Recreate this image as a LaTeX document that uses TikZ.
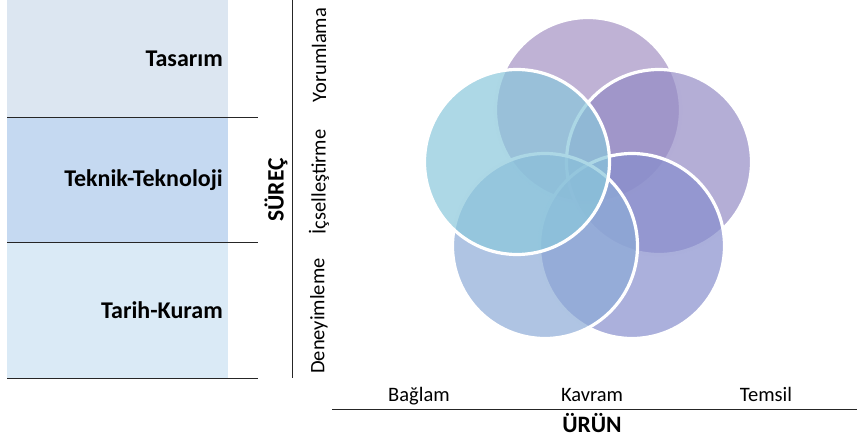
\documentclass[tikz,border=0pt]{standalone}
\usepackage{fontspec}
\setmainfont{Carlito}
\usetikzlibrary{positioning}

\definecolor{bandTop}{RGB}{220,230,241}
\definecolor{bandMid}{RGB}{197,217,241}
\definecolor{bandLow}{RGB}{218,234,246}
\definecolor{ringTop}{RGB}{164,146,195}
\definecolor{ringLeft}{RGB}{138,199,219}
\definecolor{ringRight}{RGB}{148,139,197}
\definecolor{ringBL}{RGB}{141,171,215}
\definecolor{ringBR}{RGB}{135,142,205}

\begin{document}
\begin{tikzpicture}[
    x = 1pt,
    y = -1pt,
    band/.style = {rectangle, minimum width=221pt, minimum height=#1,
              inner sep=0pt, outer sep=0pt, anchor=north west},
    bandlabel/.style = {anchor=east, inner sep=0pt,
              font=\fontsize{24}{28}\selectfont\bfseries},
    axislabel/.style = {inner sep=0pt, font=\fontsize{20.5}{24}\selectfont},
    axistitle/.style = {inner sep=0pt, font=\fontsize{23.5}{28}\selectfont\bfseries},
    rule/.style = {black!85, line width=1pt},
    ring/.style = {circle, minimum size=185pt, inner sep=0pt,
              fill=#1, fill opacity=0.7, draw=white, line width=3.2pt},
    ]

\useasboundingbox (0,0) rectangle (857,444);

% left panel
\node[band=117pt, fill=bandTop] (band_top) at (7,0){};
\node[band=125pt, fill=bandMid] (band_mid) at (7,117){};
\node[band=136pt, fill=bandLow] (band_low) at (7,242){};

\node[bandlabel] (tasarim) at (223,58.5){Tasarım};
\node[bandlabel] (teknik) at (223,180){Teknik-Teknoloji};
\node[bandlabel] (tarih) at (223,310){Tarih-Kuram};

\draw [rule] (7,0) -- (258,0);
\draw [rule] (7,117) -- (258,117);
\draw [rule] (7,242) -- (258,242);
\draw [rule] (7,378) -- (258,378);

% process axis
\draw [rule] (292,0) -- (292,378);
\node[axistitle, rotate=90] (surec) at (276,190){SÜREÇ};
\node[axislabel, rotate=90] (yorum) at (319,55){Yorumlama};
\node[axislabel, rotate=90] (icsel) at (319,182){İçselleştirme};
\node[axislabel, rotate=90] (deney) at (319,316){Deneyimleme};

% rings
\node[ring=ringTop] (ring_top) at (588,110){};
\node[ring=ringRight] (ring_right) at (659,162){};
\node[ring=ringBR] (ring_br) at (632,246){};
\node[ring=ringBL] (ring_bl) at (545,246){};
\node[ring=ringLeft] (ring_left) at (517,162){};

% product axis
\node[axislabel, anchor=base] (baglam) at (419,401){Bağlam};
\node[axislabel, anchor=base] (kavram) at (592,401){Kavram};
\node[axislabel, anchor=base] (temsil) at (766,401){Temsil};
\draw [rule] (332,409) -- (857,409);
\node[axistitle, anchor=base] (urun) at (592,432){ÜRÜN};

\end{tikzpicture}
\end{document}
